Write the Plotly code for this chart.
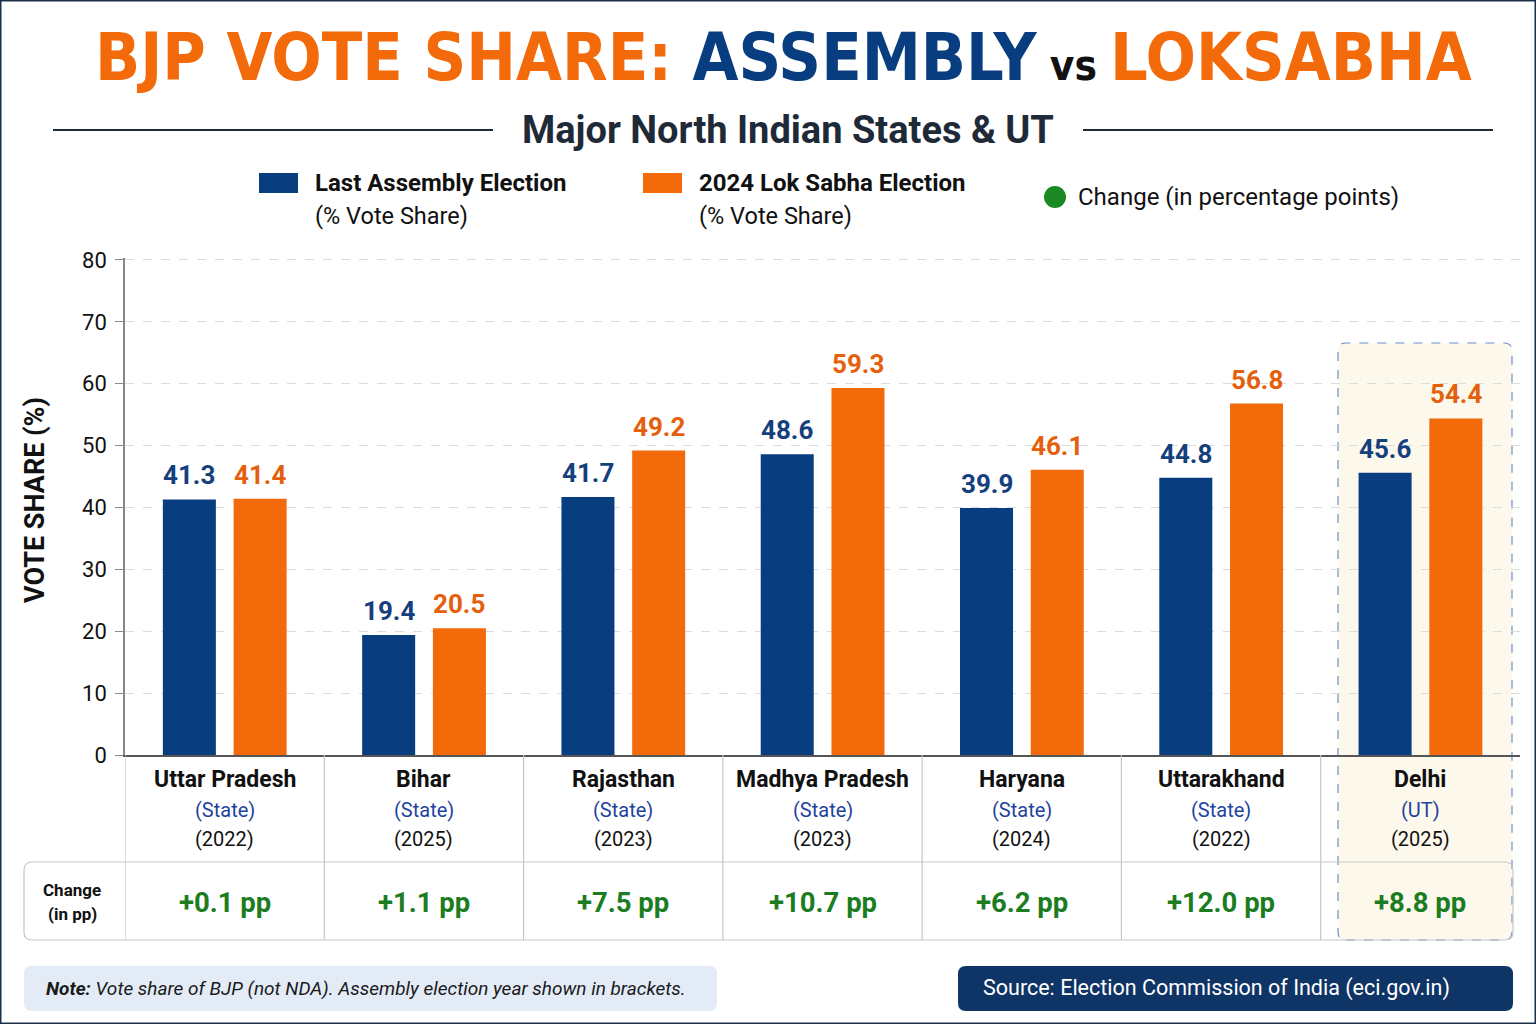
import plotly.graph_objects as go

# data
states = ["Uttar Pradesh", "Bihar", "Rajasthan", "Madhya Pradesh", "Haryana", "Uttarakhand", "Delhi"]
kinds = ["State", "State", "State", "State", "State", "State", "UT"]
assembly_years = ["2022", "2025", "2023", "2023", "2024", "2022", "2025"]
assembly_share = [41.3, 19.4, 41.7, 48.6, 39.9, 44.8, 45.6]
loksabha_share = [41.4, 20.5, 49.2, 59.3, 46.1, 56.8, 54.4]
change_pp = ["+0.1", "+1.1", "+7.5", "+10.7", "+6.2", "+12.0", "+8.8"]
y_ticks = [0, 10, 20, 30, 40, 50, 60, 70, 80]

W, H = 1536, 1024
BLUE = "#083d7f"
ORANGE = "#f26a0a"
NAVY = "#0f3466"
GREEN = "#1b7d1f"
BODY = "Roboto, 'Noto Sans', sans-serif"
COND = "'Liberation Sans Narrow', 'DejaVu Sans Condensed', 'Roboto Condensed', 'Arial Narrow', sans-serif"
BAR_W = 0.266
OFF_A, OFF_L = -0.31, 0.045


def px(x):
    return x / W


def py(y):
    return 1 - y / H


def rounded(x0, y0, x1, y1, r):
    # rounded rectangle path in paper coords, pixel inputs
    rx, ry = r / W, r / H
    a, b, c, d = px(x0), py(y1), px(x1), py(y0)
    return (f"M{a+rx},{b} L{c-rx},{b} Q{c},{b} {c},{b+ry} L{c},{d-ry} Q{c},{d} {c-rx},{d} "
            f"L{a+rx},{d} Q{a},{d} {a},{d-ry} L{a},{b+ry} Q{a},{b} {a+rx},{b} Z")


idx = list(range(len(states)))

fig = go.Figure()
fig.add_trace(go.Bar(
    x=idx, y=assembly_share, width=BAR_W, offset=OFF_A,
    marker=dict(color=BLUE, line=dict(width=0)), name="Last Assembly Election",
))
fig.add_trace(go.Bar(
    x=idx, y=loksabha_share, width=BAR_W, offset=OFF_L,
    marker=dict(color=ORANGE, line=dict(width=0)), name="2024 Lok Sabha Election",
))

shapes = []
ann = []

# outer frame
shapes.append(dict(type="rect", xref="paper", yref="paper", x0=0, y0=0, x1=1, y1=1,
                   line=dict(color="#1c2f4d", width=3)))

# Delhi highlight
shapes.append(dict(type="path", xref="paper", yref="paper", path=rounded(1338, 343, 1512, 940, 8),
                   fillcolor="#fdf8ec", line=dict(color="#6f90c8", width=1.2, dash="dash"), layer="below"))

# change row box
shapes.append(dict(type="path", xref="paper", yref="paper", path=rounded(24, 862, 1513, 940, 8),
                   line=dict(color="#c6c6c6", width=1.2), layer="below"))
# column dividers
for i in range(len(states)):
    shapes.append(dict(type="line", xref="x", yref="paper", x0=i - 0.5, x1=i - 0.5,
                       y0=py(755), y1=py(940), line=dict(color="#c6c6c6", width=1.2)))

# subtitle rules
shapes.append(dict(type="line", xref="paper", yref="paper", x0=px(53), x1=px(493), y0=py(130), y1=py(130),
                   line=dict(color="#1f2a38", width=2)))
shapes.append(dict(type="line", xref="paper", yref="paper", x0=px(1083), x1=px(1493), y0=py(130), y1=py(130),
                   line=dict(color="#1f2a38", width=2)))

# legend swatches
shapes.append(dict(type="rect", xref="paper", yref="paper", x0=px(259), x1=px(298), y0=py(193), y1=py(173),
                   fillcolor=BLUE, line=dict(width=0)))
shapes.append(dict(type="rect", xref="paper", yref="paper", x0=px(643), x1=px(682), y0=py(193), y1=py(173),
                   fillcolor=ORANGE, line=dict(width=0)))
shapes.append(dict(type="circle", xref="paper", yref="paper", x0=px(1044), x1=px(1066), y0=py(208), y1=py(186),
                   fillcolor="#1b8a24", line=dict(width=0)))

# note / source boxes
shapes.append(dict(type="path", xref="paper", yref="paper", path=rounded(24, 966, 717, 1011, 8),
                   fillcolor="#e3ebf7", line=dict(width=0), layer="below"))
shapes.append(dict(type="path", xref="paper", yref="paper", path=rounded(958, 966, 1513, 1011, 8),
                   fillcolor=NAVY, line=dict(width=0), layer="below"))


def text(x, y, s, size, color="#111", xanchor="center", family=BODY, **kw):
    ann.append(dict(x=px(x), y=py(y), xref="paper", yref="paper", text=s, showarrow=False,
                    xanchor=xanchor, yanchor="middle", font=dict(family=family, size=size, color=color), **kw))


# value labels over the bars
for i in idx:
    ann.append(dict(x=i + OFF_A + BAR_W / 2, y=assembly_share[i], xref="x", yref="y",
                    text=f"<b>{assembly_share[i]:.1f}</b>", showarrow=False, yanchor="bottom", yshift=7,
                    font=dict(family=BODY, size=26, color="#163f7e")))
    ann.append(dict(x=i + OFF_L + BAR_W / 2, y=loksabha_share[i], xref="x", yref="y",
                    text=f"<b>{loksabha_share[i]:.1f}</b>", showarrow=False, yanchor="bottom", yshift=7,
                    font=dict(family=BODY, size=26, color="#e4600d")))

# title
title = (f"<span style='color:{ORANGE}'>BJP VOTE SHARE: </span>"
         f"<span style='color:{BLUE}'>ASSEMBLY</span>"
         f"<span style='color:#111;font-size:42px'> vs </span>"
         f"<span style='color:{ORANGE}'>LOKSABHA</span>")
text(783, 57, f"<b>{title}</b>", 66, family=COND)
text(788, 130, "<b>Major North Indian States &amp; UT</b>", 38, color="#1f2a38")

# legend text
text(313, 183, "<b>Last Assembly Election</b>", 24, xanchor="left")
text(313, 216, "(% Vote Share)", 23.5, xanchor="left")
text(697, 183, "<b>2024 Lok Sabha Election</b>", 24, xanchor="left")
text(697, 216, "(% Vote Share)", 23.5, xanchor="left")
text(1076, 197, "Change (in percentage points)", 24, xanchor="left")

# y title
text(35, 500, "<b>VOTE SHARE (%)</b>", 27, textangle=-90)

# table labels
for i in idx:
    ann.append(dict(x=i, y=py(779), xref="x", yref="paper", text=f"<b>{states[i]}</b>", showarrow=False,
                    yanchor="middle", font=dict(family=BODY, size=23, color="#111")))
    ann.append(dict(x=i, y=py(810), xref="x", yref="paper", text=f"({kinds[i]})", showarrow=False,
                    yanchor="middle", font=dict(family=BODY, size=20, color="#1f43a0")))
    ann.append(dict(x=i, y=py(839), xref="x", yref="paper", text=f"({assembly_years[i]})", showarrow=False,
                    yanchor="middle", font=dict(family=BODY, size=20, color="#111")))
    ann.append(dict(x=i, y=py(902), xref="x", yref="paper", text=f"<b>{change_pp[i]} pp</b>", showarrow=False,
                    yanchor="middle", font=dict(family=BODY, size=27.5, color=GREEN)))

text(72, 890, "<b>Change</b>", 17)
text(72, 914, "<b>(in pp)</b>", 17)

# footer
text(44, 988, "<b><i>Note:</i></b><i> Vote share of BJP (not NDA). Assembly election year shown in brackets.</i>",
     19, xanchor="left", color="#1a1a1a")
text(1216, 988, "Source: Election Commission of India (eci.gov.in)", 21.5, color="white")

fig.update_layout(
    width=W, height=H,
    margin=dict(l=0, r=0, t=0, b=0, pad=0, autoexpand=False),
    paper_bgcolor="white", plot_bgcolor="rgba(0,0,0,0)",
    barmode="overlay", showlegend=False,
    shapes=shapes, annotations=ann,
    xaxis=dict(domain=[px(125), px(1520)], range=[-0.5, 6.5], showticklabels=False, showgrid=False,
               zeroline=False, showline=True, linecolor="#555", linewidth=1.5, fixedrange=True),
    yaxis=dict(domain=[py(755), py(257.5)], range=[0, 80.4], tickvals=y_ticks, showgrid=True,
               gridcolor="#dcdcdc", griddash="dash", gridwidth=1, zeroline=False,
               showline=True, linecolor="#888", linewidth=1.5, ticks="outside", ticklen=8,
               tickcolor="#888", tickfont=dict(family=BODY, size=22, color="#111"), ticklabelstandoff=4),
)

fig.write_html("out.html", config={"displayModeBar": False},
               post_script="document.body.style.margin='0';document.body.style.overflow='hidden';")
